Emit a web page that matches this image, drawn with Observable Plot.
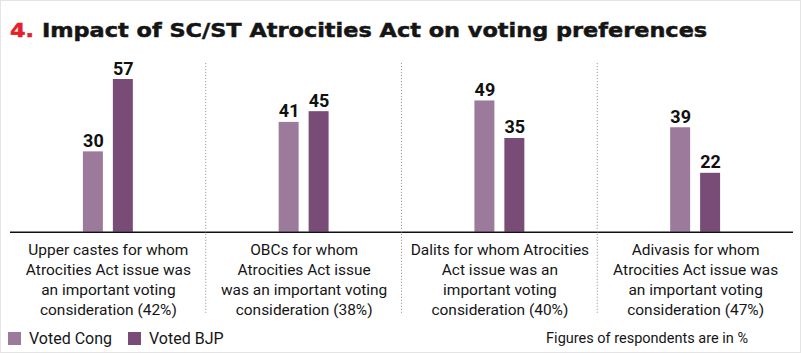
<!DOCTYPE html>
<html>
<head>
<meta charset="utf-8">
<script src="https://cdn.jsdelivr.net/npm/d3@7"></script>
<script src="https://cdn.jsdelivr.net/npm/@observablehq/plot@0.6"></script>
<style>
  html, body { margin: 0; padding: 0; background: #fff; }
  #frame { position: relative; width: 799px; height: 351px; border: 1px solid #e4e4e4; overflow: hidden; background: #fff; }
  #title { position: absolute; left: 9px; top: 18px; font-family: "DejaVu Sans", sans-serif; font-weight: bold; font-size: 20px; line-height: 22px; color: #151515; white-space: nowrap; transform: scaleX(1.12); transform-origin: left center; -webkit-text-stroke: 0.5px #151515; }
  #title .num { color: #e3202b; -webkit-text-stroke: 0.5px #e3202b; }
  #chart { position: absolute; left: -1px; top: 49px; }
  #legend { position: absolute; left: 7px; top: 321px; }
  #caption { position: absolute; right: 52px; top: 328px; font-family: "Roboto", sans-serif; font-size: 14.5px; line-height: 20px; color: #151515; }
</style>
</head>
<body>
<div id="frame">
  <div id="title"><span class="num">4.</span> Impact of SC/ST Atrocities Act on voting preferences</div>
  <div id="chart"></div>
  <div id="legend"></div>
  <div id="caption">Figures of respondents are in %</div>
</div>
<script>
// ---- data ----
const groups = ["Upper castes", "OBCs", "Dalits", "Adivasis"];
const groupLabels = [
  "Upper castes for whom\nAtrocities Act issue was\nan important voting\nconsideration (42%)",
  "OBCs for whom\nAtrocities Act issue\nwas an important voting\nconsideration (38%)",
  "Dalits for whom Atrocities\nAct issue was an\nimportant voting\nconsideration (40%)",
  "Adivasis for whom\nAtrocities Act issue was\nan important voting\nconsideration (47%)"
];
const series = ["Voted Cong", "Voted BJP"];
const votedCong = [30, 41, 49, 39];
const votedBJP = [57, 45, 35, 22];
const seriesColors = ["#9c7a9b", "#794b77"];

const rows = [];
groups.forEach((g, i) => {
  rows.push({group: g, series: series[0], value: votedCong[i]});
  rows.push({group: g, series: series[1], value: votedBJP[i]});
});
const labelRows = groups.map((g, i) => ({group: g, label: groupLabels[i]}));

const chart = Plot.plot({
  width: 801,
  height: 270,
  marginLeft: 9,
  marginRight: 6,
  marginTop: 21,
  marginBottom: 88,
  style: {fontFamily: "Roboto, sans-serif", fontSize: "15px", background: "transparent", overflow: "visible", color: "#151515"},
  fx: {domain: groups, padding: 0, axis: null},
  x: {domain: series, axis: null, paddingInner: 0.3226, paddingOuter: 2.335},
  y: {domain: [0, 60], axis: null},
  color: {domain: series, range: seriesColors},
  marks: [
    Plot.barY(rows, {fx: "group", x: "series", y: "value", fill: "series"}),
    Plot.text(rows, {fx: "group", x: "series", y: "value", text: d => String(d.value), dy: -5, lineAnchor: "bottom", fontSize: 18, fontWeight: "bold", fill: "#111"}),
    Plot.ruleY([0], {stroke: "#111", strokeWidth: 1.6}),
    Plot.text(labelRows, {fx: "group", text: "label", frameAnchor: "bottom", lineAnchor: "top", dy: 9, lineHeight: 1.29, fontSize: 15.5, fill: "#151515"})
  ]
});
document.getElementById("chart").appendChild(chart);

// dotted separators between panels, placed with the fx scale
const fxScale = chart.scale("fx");
const yScale = chart.scale("y");
const nGroups = fxScale.domain.length;
const fxStep = (fxScale.range[1] - fxScale.range[0]) / nGroups;
const sepTop = Math.min(...yScale.range) - 8;
const sepBottom = Math.max(...yScale.range) + 83;
const svgSel = d3.select(chart);
fxScale.domain.slice(1).forEach((d, i) => {
  const xpos = fxScale.apply ? fxScale.apply(d) : fxScale.range[0] + (i + 1) * fxStep;
  svgSel.append("line")
    .attr("x1", xpos).attr("x2", xpos)
    .attr("y1", sepTop).attr("y2", sepBottom)
    .attr("stroke", "#9a9a9a").attr("stroke-width", 1)
    .attr("stroke-dasharray", "1.2,1.8");
});

const legend = Plot.legend({
  color: {domain: series, range: seriesColors},
  legend: "swatches",
  swatchSize: 13,
  style: {fontFamily: "Roboto, sans-serif", fontSize: "16px", color: "#151515"}
});
document.getElementById("legend").appendChild(legend);
</script>
</body>
</html>
